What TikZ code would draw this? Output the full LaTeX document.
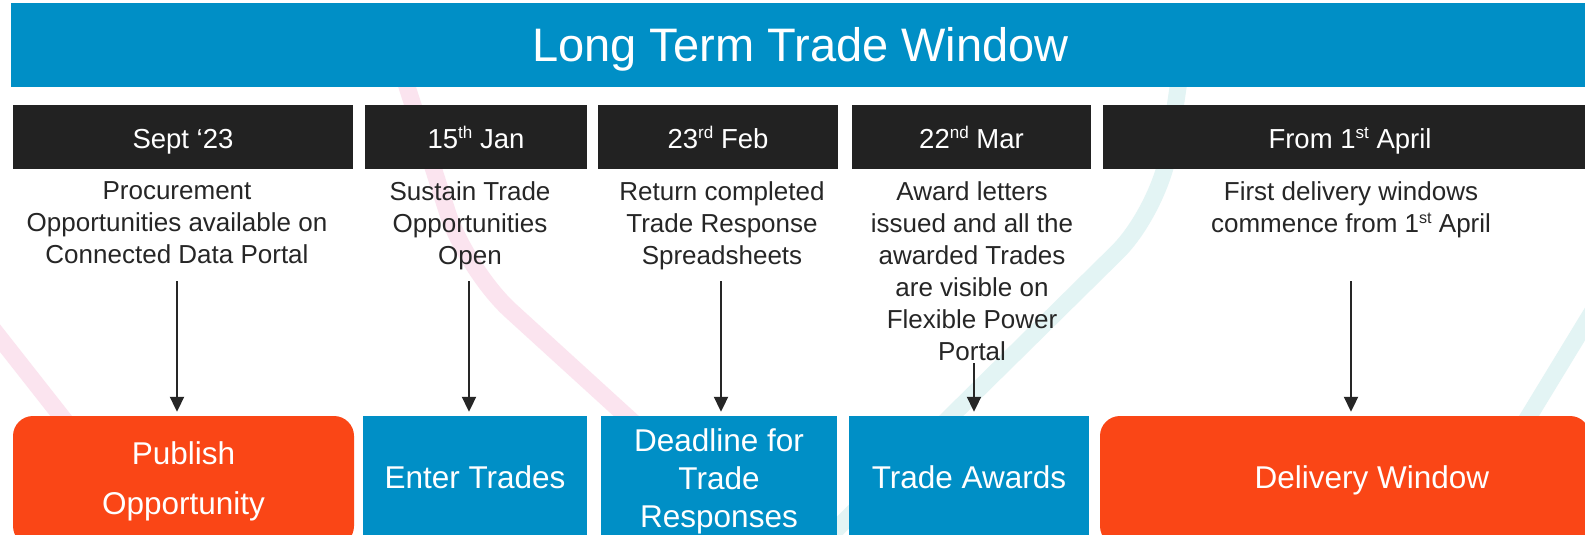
\documentclass[tikz,border=0pt]{standalone}
\usepackage{fontspec}
\setmainfont{Liberation Sans}
\usepackage{graphicx}
\usetikzlibrary{arrows.meta}
\definecolor{ltwblue}{HTML}{008FC6}
\definecolor{ltworange}{HTML}{FA4616}
\definecolor{ltwdark}{HTML}{222222}
\definecolor{ltwtext}{HTML}{262626}
\definecolor{ltwpink}{HTML}{FBE4EF}
\definecolor{ltwcyan}{HTML}{E3F4F4}
\newcommand\ltwsup[1]{\raisebox{0.33em}{\scalebox{0.62}{#1}}}

\begin{document}
\begin{tikzpicture}[x=1pt, y=-1pt,
    datebox/.style  = {fill=ltwdark, text=white, inner sep=0pt, minimum height=64pt,
                       text height=22pt, text depth=0pt, font=\fontsize{27.5}{33}\selectfont},
    desc/.style     = {anchor=north, align=center, inner sep=0pt, text=ltwtext,
                       font=\fontsize{26}{32}\selectfont},
    stagebox/.style = {inner sep=0pt, minimum height=130pt, text=white, align=center,
                       font=\fontsize{31.5}{38}\selectfont},
    flow/.style     = {-{Triangle[length=15pt, width=14pt]}, line width=2pt, draw=ltwtext, shorten >=4pt},
    swoosh/.style   = {line width=17pt, rounded corners=60pt}
  ]
  \useasboundingbox (0,0) rectangle (1585,535);
  \clip (0,0) rectangle (1585,535);
  \fill[white] (0,0) rectangle (1585,535);

  \draw[swoosh, ltwpink] (392,40) -- (466,270) -- (680,465);
  \draw[swoosh, ltwpink] (-30,300) -- (80,440);
  \draw[swoosh, ltwcyan] (1185,40) -- (1160,210) -- (800,565);
  \draw[swoosh, ltwcyan] (1630,250) -- (1490,480);

  \node[fill=ltwblue, text=white, inner sep=0pt, minimum width=1579pt, minimum height=84pt,
        text height=33.7pt, text depth=0pt, font=\fontsize{47}{56}\selectfont] (title) at (800.5,45) {Long Term Trade Window};

  \node[datebox, minimum width=340pt] (sept) at ( 183,  137) {Sept ‘23};
  \node[datebox, minimum width=222pt] (jan)  at ( 476,  137) {15\ltwsup{th} Jan};
  \node[datebox, minimum width=240pt] (feb)  at ( 718,  137) {23\ltwsup{rd} Feb};
  \node[datebox, minimum width=239pt] (mar)  at ( 971.5,137) {22\ltwsup{nd} Mar};
  \node[datebox, minimum width=494pt] (apr)  at (1350,  137) {From 1\ltwsup{st} April};

  \node[desc] (procure) at ( 177,181) {Procurement\\Opportunities available on\\Connected Data Portal};
  \node[desc] (sustain) at ( 470,181) {Sustain Trade\\Opportunities\\Open};
  \node[desc] (return)  at ( 722,181) {Return completed\\Trade Response\\Spreadsheets};
  \node[desc] (award)   at ( 972,181) {Award letters\\issued and all the\\awarded Trades\\are visible on\\Flexible Power\\Portal};
  \node[desc] (first)   at (1351,181) {First delivery windows\\commence from 1\ltwsup{st} April};

  \node[stagebox, fill=ltworange, rounded corners=20pt, minimum width=341pt] (publish)  at ( 183.5,481) {Publish\\[12pt]Opportunity};
  \node[stagebox, fill=ltwblue, minimum width=224pt, text depth=8.6pt]        (enter)    at ( 475,  481) {Enter Trades};
  \node[stagebox, fill=ltwblue, minimum width=236pt]                         (deadline) at ( 719,  481) {Deadline for\\Trade\\Responses};
  \node[stagebox, fill=ltwblue, minimum width=240pt, text depth=8.6pt]        (awards)   at ( 969,  481) {Trade Awards};
  \node[stagebox, fill=ltworange, rounded corners=20pt, minimum width=490pt] (delivery) at (1345,  481) {};
  \node[text=white, inner sep=0pt, anchor=base, font=\fontsize{31.5}{38}\selectfont] (deliverytxt) at (1372,488) {Delivery Window};

  \coordinate (s1) at ( 177,281);
  \coordinate (s2) at ( 469,281);
  \coordinate (s3) at ( 721,281);
  \coordinate (s4) at ( 974,363);
  \coordinate (s5) at (1351,281);
  \draw[flow] (s1) -- (s1 |- publish.north);
  \draw[flow] (s2) -- (s2 |- enter.north);
  \draw[flow] (s3) -- (s3 |- deadline.north);
  \draw[flow] (s4) -- (s4 |- awards.north);
  \draw[flow] (s5) -- (s5 |- delivery.north);
\end{tikzpicture}
\end{document}
